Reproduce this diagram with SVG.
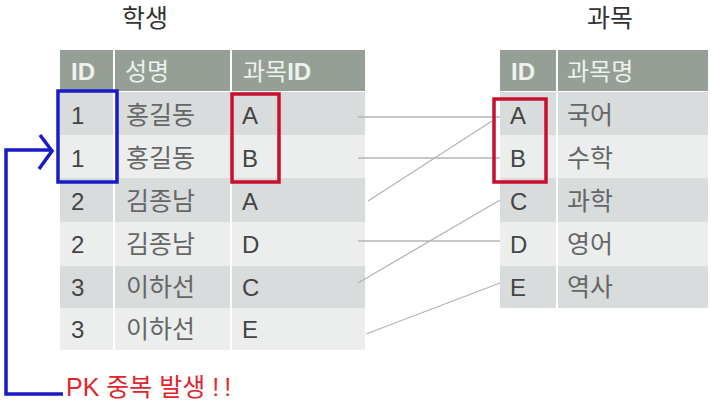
<svg xmlns="http://www.w3.org/2000/svg" width="711" height="403" viewBox="0 0 711 403">
<style>
text{font-family:"Liberation Sans","Noto Sans CJK KR",sans-serif;}
.title{font-size:25px;fill:#333;}
.hd{fill:#959f95;}
.odd{fill:#d9dcdc;}
.even{fill:#eceeee;}
.ht{font-size:24px;fill:#eef1ee;}
.hb{font-weight:bold;}
.t{font-size:24px;fill:#444;}
.k{font-size:25px;fill:#666;}
.sep{stroke:#ffffff;stroke-width:2;}
.conn{stroke:#b4b4b4;stroke-width:1.3;fill:none;}
.red{fill:none;stroke:#c8102e;stroke-width:3.5;}
.blue{fill:none;stroke:#1a1ac8;stroke-width:3.5;stroke-linejoin:miter;}
.pk{font-size:25px;fill:#e0262c;}
</style>
<rect width="711" height="403" fill="#ffffff"/>

<g id="student">
<text class="title" x="145" y="27" text-anchor="middle">학생</text>
<rect class="hd" x="60" y="50" width="305" height="41"/>
<rect class="odd" x="60" y="92" width="305" height="43"/>
<rect class="even" x="60" y="135" width="305" height="43"/>
<rect class="odd" x="60" y="178" width="305" height="44"/>
<rect class="even" x="60" y="222" width="305" height="44"/>
<rect class="odd" x="60" y="266" width="305" height="42"/>
<rect class="even" x="60" y="308" width="305" height="42"/>
<line class="sep" x1="114" y1="50" x2="114" y2="350"/>
<line class="sep" x1="231" y1="50" x2="231" y2="350"/>
<text class="ht hb" x="71" y="80">ID</text>
<text class="ht" x="125" y="80">성명</text>
<text class="ht" x="243" y="80">과목<tspan class="hb">ID</tspan></text>
<text class="t" x="71" y="124">1</text><text class="k" x="126" y="124">홍길동</text><text class="t" x="242" y="124">A</text>
<text class="t" x="71" y="167">1</text><text class="k" x="126" y="167">홍길동</text><text class="t" x="242" y="167">B</text>
<text class="t" x="71" y="210">2</text><text class="k" x="126" y="210">김종남</text><text class="t" x="242" y="210">A</text>
<text class="t" x="71" y="253">2</text><text class="k" x="126" y="253">김종남</text><text class="t" x="242" y="253">D</text>
<text class="t" x="71" y="296">3</text><text class="k" x="126" y="296">이하선</text><text class="t" x="242" y="296">C</text>
<text class="t" x="71" y="338">3</text><text class="k" x="126" y="338">이하선</text><text class="t" x="242" y="338">E</text>
</g>

<g id="subject">
<text class="title" x="610" y="27" text-anchor="middle">과목</text>
<rect class="hd" x="500" y="50" width="208" height="41"/>
<rect class="odd" x="500" y="92" width="208" height="43"/>
<rect class="even" x="500" y="135" width="208" height="43"/>
<rect class="odd" x="500" y="178" width="208" height="44"/>
<rect class="even" x="500" y="222" width="208" height="44"/>
<rect class="odd" x="500" y="266" width="208" height="42"/>
<line class="sep" x1="557" y1="50" x2="557" y2="308"/>
<text class="ht hb" x="511" y="80">ID</text>
<text class="ht" x="567" y="80">과목명</text>
<text class="t" x="510" y="124">A</text><text class="k" x="567" y="124">국어</text>
<text class="t" x="510" y="167">B</text><text class="k" x="567" y="167">수학</text>
<text class="t" x="510" y="210">C</text><text class="k" x="567" y="210">과학</text>
<text class="t" x="510" y="253">D</text><text class="k" x="567" y="253">영어</text>
<text class="t" x="510" y="296">E</text><text class="k" x="567" y="296">역사</text>
</g>

<g id="connectors">
<line class="conn" x1="358" y1="117" x2="500" y2="117"/>
<line class="conn" x1="358" y1="158" x2="500" y2="158"/>
<line class="conn" x1="368" y1="201" x2="492" y2="121"/>
<line class="conn" x1="358" y1="241" x2="500" y2="241"/>
<line class="conn" x1="358" y1="283" x2="500" y2="200"/>
<line class="conn" x1="366" y1="334" x2="500" y2="283"/>
</g>

<g id="highlights">
<rect class="blue" x="58" y="91" width="59" height="91"/>
<rect class="red" x="232" y="94" width="47" height="88"/>
<rect class="red" x="494" y="99" width="52" height="83"/>
</g>

<g id="pk-note">
<path class="blue" d="M63,394 H6 V150 H50"/>
<path class="blue" d="M40,135 L52,151 L39,169"/>
<text class="pk" x="66" y="396">PK 중복 발생 <tspan letter-spacing="5">!!</tspan></text>
</g>
</svg>
